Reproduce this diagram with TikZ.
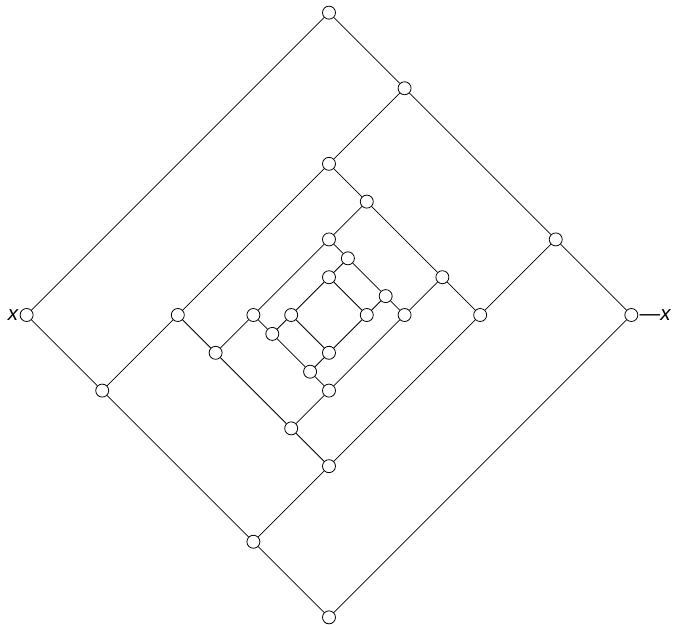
\documentclass[tikz,border=0pt]{standalone}
\usepackage{fontspec}
\newfontfamily\labelfont{Liberation Sans}
\usepackage{tikz}
\usetikzlibrary{positioning}

\tikzset{
  vtx/.style={circle,draw,fill=white,inner sep=0pt,minimum size=0.344cm,line width=0.6pt},
  lbl/.style={inner sep=0.8pt,font=\labelfont\itshape\fontsize{15.5}{18}\selectfont}
}

\begin{document}
\begin{tikzpicture}[x=0.5cm,y=0.5cm,line width=0.6pt]
  \useasboundingbox (-17.41,-16.40) rectangle (18.47,16.67); % 余白込みの枠
  % 外側の枠
  \node[vtx] (t0) at (0,16) {};  \node[vtx] (t1) at (4,12) {};  \node[vtx] (t2) at (12,4) {};
  \node[vtx] (xr) at (16,0) {};  \node[vtx] (b0) at (0,-16) {}; \node[vtx] (b1) at (-4,-12) {};
  \node[vtx] (b2) at (-12,-4) {}; \node[vtx] (xl) at (-16,0) {};
  % 2段目
  \node[vtx] (t3) at (0,8) {};  \node[vtx] (r3) at (8,0) {};
  \node[vtx] (b3) at (0,-8) {}; \node[vtx] (l3) at (-8,0) {};
  % 3段目
  \node[vtx] (t4) at (2,6) {};   \node[vtx] (t5) at (6,2) {};
  \node[vtx] (b4) at (-2,-6) {}; \node[vtx] (b5) at (-6,-2) {};
  % 4段目
  \node[vtx] (t6) at (0,4) {};  \node[vtx] (r6) at (4,0) {};
  \node[vtx] (b6) at (0,-4) {}; \node[vtx] (l6) at (-4,0) {};
  % 5段目
  \node[vtx] (t7) at (1,3) {};   \node[vtx] (t8) at (3,1) {};
  \node[vtx] (b7) at (-1,-3) {}; \node[vtx] (b8) at (-3,-1) {};
  % 中心の四角
  \node[vtx] (t9) at (0,2) {};  \node[vtx] (r9) at (2,0) {};
  \node[vtx] (b9) at (0,-2) {}; \node[vtx] (l9) at (-2,0) {};
  % 辺
  \draw (xl) -- (t0) -- (t1) -- (t2) -- (xr) -- (b0) -- (b1) -- (b2) -- (xl);
  \draw (t1) -- (t3) -- (l3) -- (b2);
  \draw (b1) -- (b3) -- (r3) -- (t2);
  \draw (t3) -- (t4) -- (t5) -- (r3);
  \draw (l3) -- (b5) -- (b4) -- (b3);
  \draw (t4) -- (t6) -- (l6) -- (b5);
  \draw (b4) -- (b6) -- (r6) -- (t5);
  \draw (t6) -- (t7) -- (t8) -- (r6);
  \draw (l6) -- (b8) -- (b7) -- (b6);
  \draw (t7) -- (t9) -- (r9) -- (t8);
  \draw (b8) -- (l9) -- (b9) -- (b7);
  \draw (l9) -- (t9); \draw (r9) -- (b9);
  % ラベル
  \node[lbl,left=0pt of xl] (xlab) {x};
  \node[lbl,right=0pt of xr] (mxlab) {—x};
\end{tikzpicture}
\end{document}
